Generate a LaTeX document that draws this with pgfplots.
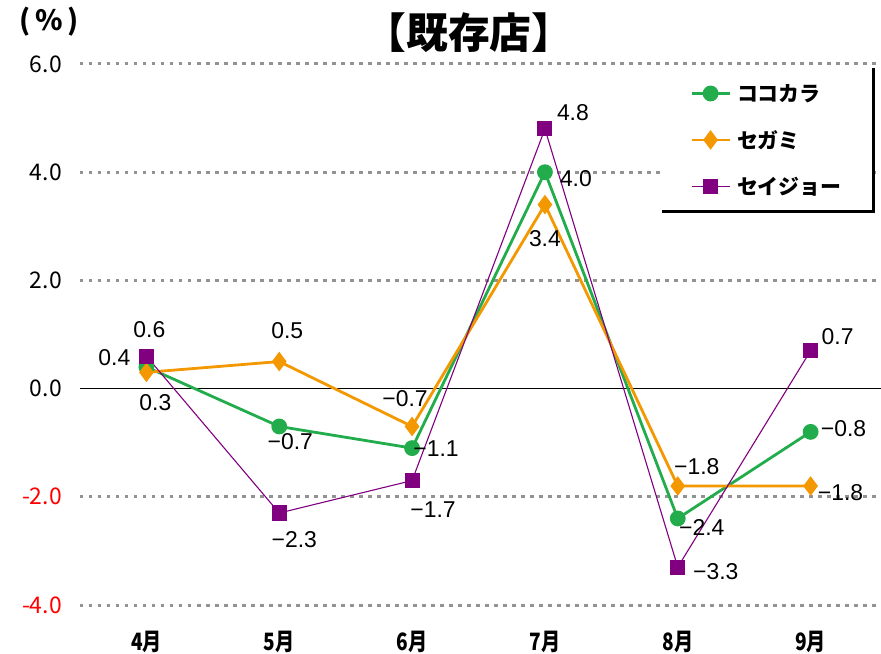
\documentclass[border=0pt]{standalone}
\usepackage{pgfplots}
\pgfplotsset{compat=1.18}
\usepackage{fontspec}
\setmainfont{Liberation Sans}
\newfontfamily\jp{Noto Sans CJK JP}
\newfontfamily\jpc[FakeStretch=0.8]{Noto Sans CJK JP}
\definecolor{cgreen}{HTML}{22AC4C}
\definecolor{corange}{HTML}{F39800}
\definecolor{cpurple}{HTML}{800080}
\newcommand{\yl}[1]{\makebox[46bp][r]{#1}}

\pgfplotsset{lbl/.style={
  point meta=explicit symbolic,
  visualization depends on={value \thisrow{dx}\as\ldx},
  visualization depends on={value \thisrow{dy}\as\ldy},
  nodes near coords,
  every node near coord/.append style={anchor=center,
     xshift=\ldx bp, yshift=\ldy bp,
     text=black, font=\fontsize{23}{23}\selectfont}}}

\begin{document}
\begin{tikzpicture}
\begin{axis}[
  scale only axis,
  width=801bp, height=541bp,
  xmin=-0.5, xmax=5.53,
  ymin=-4, ymax=6,
  clip=false,
  axis line style={draw=none},
  tick style={draw=none},
  xtick={0,1,2,3,4,5},
  xticklabels={4月,5月,6月,7月,8月,9月},
  xticklabel style={font=\jpc\bfseries\fontsize{24}{24}\selectfont, anchor=center, yshift=-37bp, inner sep=0pt},
  ytick={-4,-2,2,4,6},
  yticklabels={\yl{\textcolor{red}{-4.0}},\yl{\textcolor{red}{-2.0}},\yl{2.0},\yl{4.0},\yl{6.0}},
  yticklabel style={font=\jp\fontsize{23}{23}\selectfont, anchor=east, xshift=-18bp, inner sep=0pt},
  extra y ticks={0},
  extra y tick labels={\yl{0.0}},
  extra y tick style={ymajorgrids=true, major grid style={solid, black, line width=1.3bp}},
  ymajorgrids,
  major grid style={gray!85, line width=3bp, dash pattern=on 3.5bp off 5.5bp},
  legend cell align=left,
  legend image code/.code={\draw[mark repeat=2,mark phase=2,#1] plot coordinates {(0bp,0bp) (19bp,0bp) (38bp,0bp)};},
  legend style={at={(0.7266,0.998)}, anchor=north west, draw=none, fill=white,
    font=\jp\bfseries\fontsize{21}{21}\selectfont,
    inner xsep=28bp, inner ysep=17bp, row sep=23.5bp, column sep=4bp},
]
\addlegendimage{cgreen, line width=2.8bp, mark=*, mark size=6.5bp}
\addlegendentry{ココカラ}
\addlegendimage{corange, line width=2.8bp, mark=diamond*, mark size=7.5bp}
\addlegendentry{セガミ}
\addlegendimage{cpurple, line width=1.1bp, mark=square*, mark size=7bp}
\addlegendentry{セイジョー}
\addplot[forget plot, cgreen, line width=2.8bp, mark=*, mark size=6.5bp, lbl]
  table[x=x, y=y, meta=lab] {
x y lab dx dy
0 0.4 0.4 -32 9
1 -0.7 −0.7 11 -15
2 -1.1 −1.1 24 -1
3 4.0 4.0 31 -6
4 -2.4 −2.4 24 -9
5 -0.8 −0.8 33 3
};
\addplot[forget plot, corange, line width=2.8bp, mark=diamond*, mark size=7.5bp, lbl]
  table[x=x, y=y, meta=lab] {
x y lab dx dy
0 0.3 0.3 9 -30
1 0.5 0.5 8 31
2 -0.7 −0.7 -7 28
3 3.4 3.4 0 -34
4 -1.8 −1.8 19 19
5 -1.8 −1.8 30 -7
};
\addplot[forget plot, cpurple, line width=1.1bp, mark=square*, mark size=7bp, lbl]
  table[x=x, y=y, meta=lab] {
x y lab dx dy
0 0.6 0.6 3 27
1 -2.3 −2.3 15 -27
2 -1.7 −1.7 21 -29
3 4.8 4.8 28 16
4 -3.3 −3.3 38 -4
5 0.7 0.7 27 14
};
\end{axis}
\draw[line width=3bp] (793.5bp,537bp) -- (793.5bp,393.5bp) -- (582bp,393.5bp);
\node[font=\jp\bfseries\fontsize{42}{42}\selectfont] at (389bp,572bp) {【既存店】};
\node[font=\jp\bfseries\fontsize{28}{28}\selectfont] at (-31bp,583bp) {(\,\%\,)};
\pgfresetboundingbox
\path[use as bounding box] (-80bp,-49bp) rectangle (801bp,605bp);
\end{tikzpicture}
\end{document}
